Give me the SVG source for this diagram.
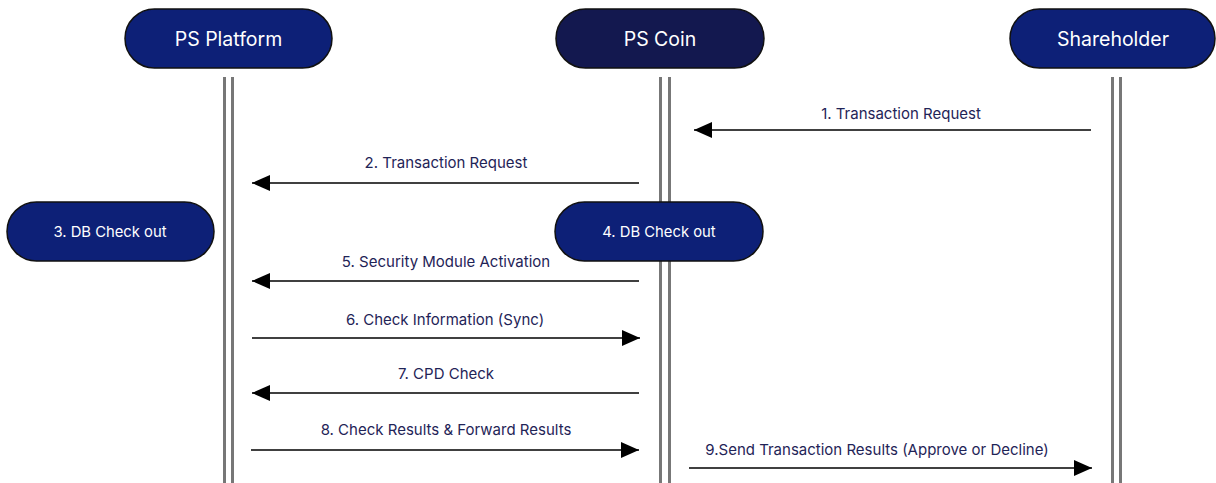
<svg xmlns="http://www.w3.org/2000/svg" width="1216" height="483" viewBox="0 0 1216 483">
<style>
.node rect{stroke:#111;stroke-width:1.5}
.blue{fill:#0d2077}
.dark{fill:#13184f}
.ntext{font-family:Inter,"Liberation Sans",sans-serif;fill:#ffffff;text-anchor:middle;dominant-baseline:central}
.big{font-size:19.5px}
.small{font-size:14.8px}
.life{stroke:#777;stroke-width:3}
.conn{stroke:#000;stroke-width:1.5;fill:none}
.lbl{font-family:Inter,"Liberation Sans",sans-serif;font-size:15px;fill:#1f2457;text-anchor:middle}
</style>
<defs>
<marker id="ah" viewBox="0 0 18 16" refX="18" refY="8" markerWidth="18" markerHeight="16" markerUnits="userSpaceOnUse" orient="auto">
<path d="M0,0 L18,8 L0,16 Z" fill="#000"/>
</marker>
</defs>
<rect width="1216" height="483" fill="#fff"/>
<g id="lifelines">
<line class="life" x1="224.5" y1="77" x2="224.5" y2="483"/>
<line class="life" x1="232.5" y1="77" x2="232.5" y2="483"/>
<line class="life" x1="660.5" y1="77" x2="660.5" y2="483"/>
<line class="life" x1="669.5" y1="77" x2="669.5" y2="483"/>
<line class="life" x1="1112.5" y1="77" x2="1112.5" y2="483"/>
<line class="life" x1="1120.5" y1="77" x2="1120.5" y2="483"/>
</g>
<g id="ps-platform" class="node">
<rect class="blue" x="125" y="9" width="207" height="59" rx="29.5"/>
<text class="ntext big" x="228.5" y="39">PS Platform</text>
</g>
<g id="ps-coin" class="node">
<rect class="dark" x="556" y="9" width="208" height="59" rx="29.5"/>
<text class="ntext big" x="660" y="39">PS Coin</text>
</g>
<g id="shareholder" class="node">
<rect class="blue" x="1010" y="9" width="205" height="59" rx="29.5"/>
<text class="ntext big" x="1113" y="39">Shareholder</text>
</g>
<g id="db-check-3" class="node">
<rect class="blue" x="7" y="202" width="207" height="59" rx="29.5"/>
<text class="ntext small" x="110" y="232">3. DB Check out</text>
</g>
<g id="db-check-4" class="node">
<rect class="blue" x="555" y="202" width="208" height="59" rx="29.5"/>
<text class="ntext small" x="659" y="232">4. DB Check out</text>
</g>
<g id="connectors">
<line class="conn" x1="1091" y1="130" x2="694" y2="130" marker-end="url(#ah)"/>
<text class="lbl" x="901" y="119">1. Transaction Request</text>
<line class="conn" x1="639" y1="183" x2="252" y2="183" marker-end="url(#ah)"/>
<text class="lbl" x="446" y="168">2. Transaction Request</text>
<line class="conn" x1="639" y1="281" x2="252" y2="281" marker-end="url(#ah)"/>
<text class="lbl" x="446" y="267">5. Security Module Activation</text>
<line class="conn" x1="252" y1="338" x2="640" y2="338" marker-end="url(#ah)"/>
<text class="lbl" x="445" y="325">6. Check Information (Sync)</text>
<line class="conn" x1="639" y1="393" x2="252" y2="393" marker-end="url(#ah)"/>
<text class="lbl" x="446" y="379">7. CPD Check</text>
<line class="conn" x1="251" y1="450" x2="639" y2="450" marker-end="url(#ah)"/>
<text class="lbl" x="446" y="435">8. Check Results &amp; Forward Results</text>
<line class="conn" x1="689" y1="468" x2="1092" y2="468" marker-end="url(#ah)"/>
<text class="lbl" x="877" y="455">9.Send Transaction Results (Approve or Decline)</text>
</g>
</svg>
